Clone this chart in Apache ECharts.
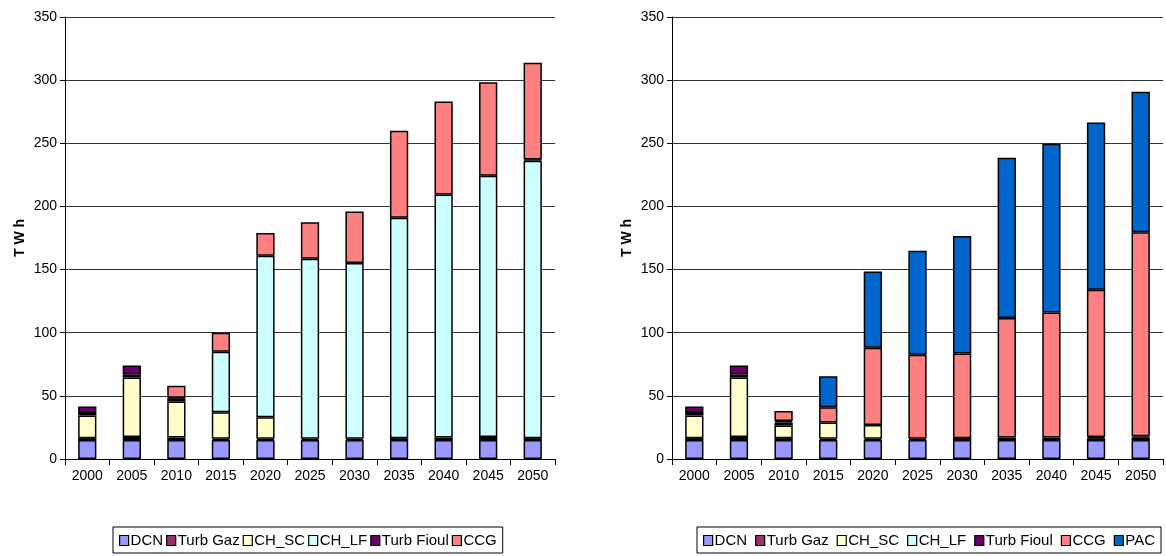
<!DOCTYPE html>
<html><head><meta charset="utf-8">
<script src="https://cdn.jsdelivr.net/npm/echarts@6/dist/echarts.min.js"></script>
<style>html,body{margin:0;padding:0;background:#fff}#c{width:1166px;height:556px}</style>
</head><body><div id="c"></div>
<script>
const years = ['2000','2005','2010','2015','2020','2025','2030','2035','2040','2045','2050'];
const yTicks = [0,50,100,150,200,250,300,350];
const names = ['DCN','Turb Gaz','CH_SC','CH_LF','Turb Fioul','CCG','PAC'];
const colors = ['#9999FF','#993366','#FFFFCC','#CCFFFF','#660066','#FF8080','#0066CC'];

// Left chart
const L_DCN       = [15, 15, 15, 15, 15, 15, 15, 15, 15, 15, 15];
const L_TurbGaz   = [1.5, 2.5, 2, 1, 1, 1, 1, 1.5, 2, 2.5, 1.5];
const L_CH_SC     = [18, 47, 28.5, 21, 17, '-', '-', '-', '-', '-', '-'];
const L_CH_LF     = [2, 2.5, 2.5, 48, 128, 142.5, 139.3, 174.5, 192.4, 206.7, 219.7];
const L_TurbFioul = [5, 7, 0.5, '-', '-', '-', '-', '-', '-', '-', 1];
const L_CCG       = ['-', '-', 9.5, 15, 18, 29, 40.7, 69, 73.7, 74.2, 76.6];

// Right chart
const R_DCN       = [15, 15, 15, 15, 15, 15, 15, 15, 15, 15, 15];
const R_TurbGaz   = [1.5, 2.5, 1.5, 1, 1, 1, 1.5, 2, 2, 1.5, 2];
const R_CH_SC     = [18, 47, 10, 13, 11, '-', '-', '-', '-', '-', '-'];
const R_CH_LF     = [2, 2.5, 2.5, '-', '-', '-', '-', '-', '-', '-', '-'];
const R_TurbFioul = [5, 7, 1, '-', '-', '-', '-', '-', '-', 1, 1];
const R_CCG       = ['-', '-', 8, 12, 61, 66.5, 67, 94.7, 99, 116.5, 161.6];
const R_PAC       = ['-', '-', '-', 24.5, 60.5, 82.5, 93, 126.8, 133.6, 132.5, 111.2];

const leftData = [L_DCN, L_TurbGaz, L_CH_SC, L_CH_LF, L_TurbFioul, L_CCG];
const rightData = [R_DCN, R_TurbGaz, R_CH_SC, R_CH_LF, R_TurbFioul, R_CCG, R_PAC];

const font = "'Liberation Sans Narrow','Liberation Sans',Arial,sans-serif";

function mkX(i){
  return {type:'category', gridIndex:i, data:years, boundaryGap:true,
    axisLine:{lineStyle:{color:'#000',width:1}},
    axisTick:{show:true, alignWithLabel:false, length:6, lineStyle:{color:'#000'}},
    axisLabel:{color:'#000', fontSize:14, fontFamily:font, margin:10}};
}
function mkY(i){
  return {type:'value', gridIndex:i, min:yTicks[0], max:yTicks[yTicks.length-1], interval:50,
    name:'T W h', nameLocation:'middle', nameGap:38, nameRotate:90,
    nameTextStyle:{color:'#000', fontSize:14, fontWeight:'bold', fontFamily:"'Liberation Sans',Arial,sans-serif"},
    axisLine:{show:true, lineStyle:{color:'#000',width:1}},
    axisTick:{show:true, length:5, lineStyle:{color:'#000'}},
    splitLine:{lineStyle:{color:'#333',width:1.2}},
    axisLabel:{color:'#000', fontSize:14, fontFamily:font, margin:8}};
}

const series = [];
leftData.forEach((d,k)=>{
  series.push({name:names[k], type:'bar', stack:'L', xAxisIndex:0, yAxisIndex:0, data:d,
    barWidth:'41%', itemStyle:{color:colors[k], borderColor:'#000', borderWidth:1.5}});
});
rightData.forEach((d,k)=>{
  series.push({name:names[k], type:'bar', stack:'R', xAxisIndex:1, yAxisIndex:1, data:d,
    barWidth:'41%', itemStyle:{color:colors[k], borderColor:'#000', borderWidth:1.5}});
});

const legendCommon = {orient:'horizontal', icon:'rect', itemWidth:9, itemHeight:10,
  borderColor:'#000', borderWidth:1, padding:[6,6,5,6],
  textStyle:{color:'#000', fontSize:15, fontFamily:font, padding:[0,0,0,-3]},
  itemStyle:{borderColor:'#000', borderWidth:1.2}, selectedMode:false};

const chart = echarts.init(document.getElementById('c'), null, {renderer:'canvas'});
chart.setOption({
  animation:false,
  backgroundColor:'#fff',
  grid:[{left:65, top:17, width:490, height:442}, {left:672, top:17, width:491, height:442}],
  xAxis:[mkX(0), mkX(1)],
  yAxis:[mkY(0), mkY(1)],
  legend:[
    Object.assign({}, legendCommon, {data:names.slice(0,6), left:113, top:527, itemGap:3}),
    Object.assign({}, legendCommon, {data:names.slice(0,7), left:697, top:527, itemGap:8})
  ],
  series:series
});
</script></body></html>
